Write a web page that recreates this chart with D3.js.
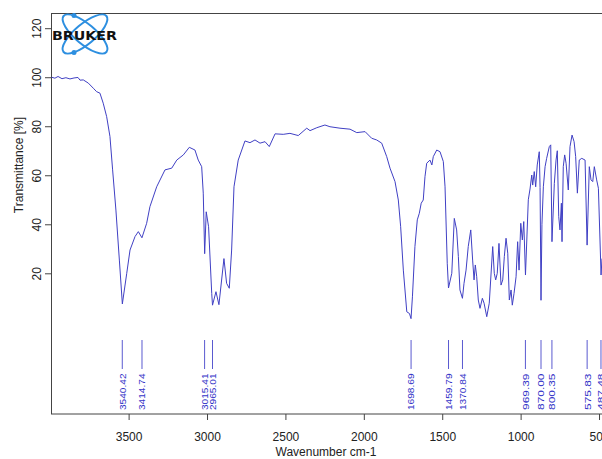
<!DOCTYPE html>
<html>
<head>
<meta charset="utf-8">
<script src="https://cdn.jsdelivr.net/npm/d3@7"></script>
<style>
  body { margin: 0; background: #fff; }
  svg { display: block; font-family: "Liberation Sans", Arial, sans-serif; }
</style>
</head>
<body>
<div id="chart"></div>
<script>
// spectrum (wavenumber cm-1 / transmittance %)
var wavenumber = [3991, 3970, 3950, 3925, 3900, 3874, 3848, 3823, 3810, 3789, 3757, 3725, 3704, 3683, 3662, 3640,
  3619, 3602, 3581, 3559, 3540, 3512, 3491, 3459, 3438, 3415, 3385, 3364, 3321, 3268, 3225, 3193, 3151, 3113,
  3077, 3056, 3034, 3024, 3015, 3005, 2990, 2970, 2965, 2943, 2924, 2892, 2875, 2858, 2843, 2828, 2801, 2758,
  2726, 2694, 2662, 2630, 2603, 2566, 2514, 2471, 2418, 2364, 2343, 2300, 2248, 2216, 2152, 2088, 2045, 1992,
  1950, 1918, 1886, 1854, 1833, 1801, 1780, 1765, 1748, 1726, 1709, 1699, 1690, 1674, 1659, 1646, 1634, 1621, 1610,
  1599, 1578, 1566, 1557, 1535, 1514, 1493, 1482, 1468, 1460, 1439, 1423, 1408, 1397, 1387, 1371, 1361, 1348,
  1334, 1318, 1306, 1297, 1289, 1280, 1270, 1259, 1244, 1233, 1216, 1200, 1178, 1168, 1159, 1149, 1138, 1125,
  1114, 1104, 1093, 1082, 1072, 1061, 1053, 1042, 1029, 1019, 1010, 999, 989, 980, 969, 951, 940, 929, 923,
  913, 904, 894, 881, 876, 870, 864, 855, 844, 834, 817, 808, 800, 785, 774, 766, 757, 749, 740, 736, 728,
  719, 710, 696, 685, 672, 659, 649, 638, 626, 610, 589, 576, 562, 551, 540, 530, 515, 504, 487, 481];
var transmittance = [100, 99.6, 100.3, 99.4, 99.8, 99.3, 99.7, 99.9, 98.8, 98.9, 97.6, 95.5, 94.1, 93.5, 89.4, 83.9,
  75.8, 62.2, 45.8, 25.4, 7.5, 20, 29.5, 35, 37, 34.5, 40.4, 47.2, 55.3, 62.2, 62.9, 66.2, 68.3, 71.4,
  70.3, 66.2, 63.5, 52.7, 28, 45.1, 39, 11.8, 7, 12.5, 7.2, 26, 15.9, 13.9, 29.5, 55.3, 66.2, 74,
  73.3, 74.4, 73.1, 73.7, 71.7, 76.9, 76.7, 77.1, 76.2, 79.2, 78.2, 79.4, 80.5, 79.8, 79.2, 78.8, 77.4, 77.8,
  75.1, 74.4, 73.1, 67.6, 62.9, 57.4, 49.9, 39, 21.3, 4.3, 3.6, 1.5, 10.4, 30.9, 41.8, 44.5, 48.6, 49.9, 59.4,
  64.9, 66.2, 64.2, 67.6, 70.3, 69.6, 65.6, 55.3, 24.1, 14, 20, 42.4, 37.7, 26.8, 13.2, 9.8, 15.9, 21.3,
  30.9, 37.7, 25.4, 17.3, 23.4, 18.6, 9.1, 5.7, 9.8, 7.8, 2.3, 7.8, 30.9, 20, 17.3, 20, 32.2, 15.2,
  17.3, 26.8, 34.3, 28.2, 9.1, 13.2, 7, 11.8, 18.6, 32.9, 21.3, 40.4, 33.6, 41.1, 19.3, 50, 54.4, 60.1, 56,
  61.5, 55.3, 64.2, 69.6, 55, 9, 40, 55.3, 63.5, 66.9, 71.7, 72.4, 32.9, 56.7, 66.2, 70, 43.1, 37.7, 48.6, 32.9, 63.5,
  68.3, 64.9, 54, 71.7, 76.4, 73.7, 67.6, 52.7, 66.2, 66.9, 66.2, 31.5, 63.5, 58.1, 57.4, 63.5, 58.1, 54.7, 19.3, 26];

var peakLabels = [3540.42, 3414.74, 3015.41, 2965.01, 1698.69, 1459.79, 1370.84, 969.39, 870.00, 800.35, 575.83, 487.48];
var xTicks = [3500, 3000, 2500, 2000, 1500, 1000, 500];
var yTicks = [20, 40, 60, 80, 100, 120];

var width = 602, height = 459;
var svg = d3.select('#chart').append('svg')
    .attr('width', width)
    .attr('height', height);

var x = d3.scaleLinear().domain([3995, 481]).range([51, 602]);
var y = d3.scaleLinear().domain([-37.4, 126.2]).range([414, 13]);

var data = wavenumber.map(function(w, i) { return [w, transmittance[i]]; });

// frame
svg.append('rect')
    .attr('x', 51.5).attr('y', 13.5)
    .attr('width', 560).attr('height', 400.5)
    .attr('fill', 'none')
    .attr('stroke', '#444')
    .attr('stroke-width', 1);

// x axis
var xAxis = svg.append('g')
    .attr('transform', 'translate(0,414)')
    .call(d3.axisBottom(x).tickValues(xTicks).tickSize(6).tickSizeOuter(0).tickFormat(d3.format('d')));
xAxis.select('.domain').remove();
xAxis.selectAll('line').attr('stroke', '#444');
xAxis.selectAll('text').attr('font-size', 12).attr('fill', '#222').attr('dy', null).attr('y', 26.5);

// y axis, labels turned like R does
var yAxis = svg.append('g')
    .attr('transform', 'translate(51,0)')
    .call(d3.axisLeft(y).tickValues(yTicks).tickSize(6).tickSizeOuter(0));
yAxis.select('.domain').remove();
yAxis.selectAll('line').attr('stroke', '#444');
yAxis.selectAll('text')
    .attr('font-size', 12).attr('fill', '#222')
    .attr('x', null).attr('dy', null)
    .attr('text-anchor', 'middle')
    .attr('transform', 'translate(-10.5,0) rotate(-90)');

// axis titles
svg.append('text')
    .attr('x', 326).attr('y', 456)
    .attr('text-anchor', 'middle')
    .attr('font-size', 12).attr('fill', '#222')
    .text('Wavenumber cm-1');
svg.append('text')
    .attr('transform', 'translate(22.5,165) rotate(-90)')
    .attr('text-anchor', 'middle')
    .attr('font-size', 12).attr('fill', '#222')
    .text('Transmittance [%]');

// spectrum
svg.append('path')
    .datum(data)
    .attr('fill', 'none')
    .attr('stroke', '#4040c4')
    .attr('stroke-width', 1)
    .attr('stroke-linejoin', 'round')
    .attr('d', d3.line().x(function(d) { return x(d[0]); }).y(function(d) { return y(d[1]); }));

// peak markers
var peaks = svg.append('g');
peaks.selectAll('line').data(peakLabels).enter().append('line')
    .attr('x1', function(d) { return x(d); }).attr('x2', function(d) { return x(d); })
    .attr('y1', 340).attr('y2', 369)
    .attr('stroke', '#5a5ad0').attr('stroke-width', 1);
peaks.selectAll('text').data(peakLabels).enter().append('text')
    .attr('transform', function(d) { return 'translate(' + (x(d) + 3.4) + ',410) rotate(-90)'; })
    .attr('font-size', 9.6).attr('fill', '#3535c8')
    .attr('textLength', 36.5).attr('lengthAdjust', 'spacingAndGlyphs')
    .text(function(d) { return d.toFixed(2); });

// Bruker logo (drawn, not an image)
var logo = svg.append('g');
logo.append('ellipse').attr('cx', 85).attr('cy', 34).attr('rx', 28).attr('ry', 10)
    .attr('transform', 'rotate(40,85,34)')
    .attr('fill', 'none').attr('stroke', '#2d8fe0').attr('stroke-width', 2);
logo.append('ellipse').attr('cx', 85).attr('cy', 34).attr('rx', 28).attr('ry', 10)
    .attr('transform', 'rotate(-40,85,34)')
    .attr('fill', 'none').attr('stroke', '#2d8fe0').attr('stroke-width', 2);
logo.append('circle').attr('cx', 74).attr('cy', 15.5).attr('r', 2.5).attr('fill', '#2d8fe0');
logo.append('circle').attr('cx', 74).attr('cy', 52.5).attr('r', 2.5).attr('fill', '#2d8fe0');
logo.append('text')
    .attr('x', 52).attr('y', 39.5)
    .attr('font-family', '"DejaVu Sans", sans-serif')
    .attr('font-size', 12.5).attr('font-weight', 'bold').attr('fill', '#111')
    .attr('textLength', 65).attr('lengthAdjust', 'spacingAndGlyphs')
    .text('BRUKER');
</script>
</body>
</html>
